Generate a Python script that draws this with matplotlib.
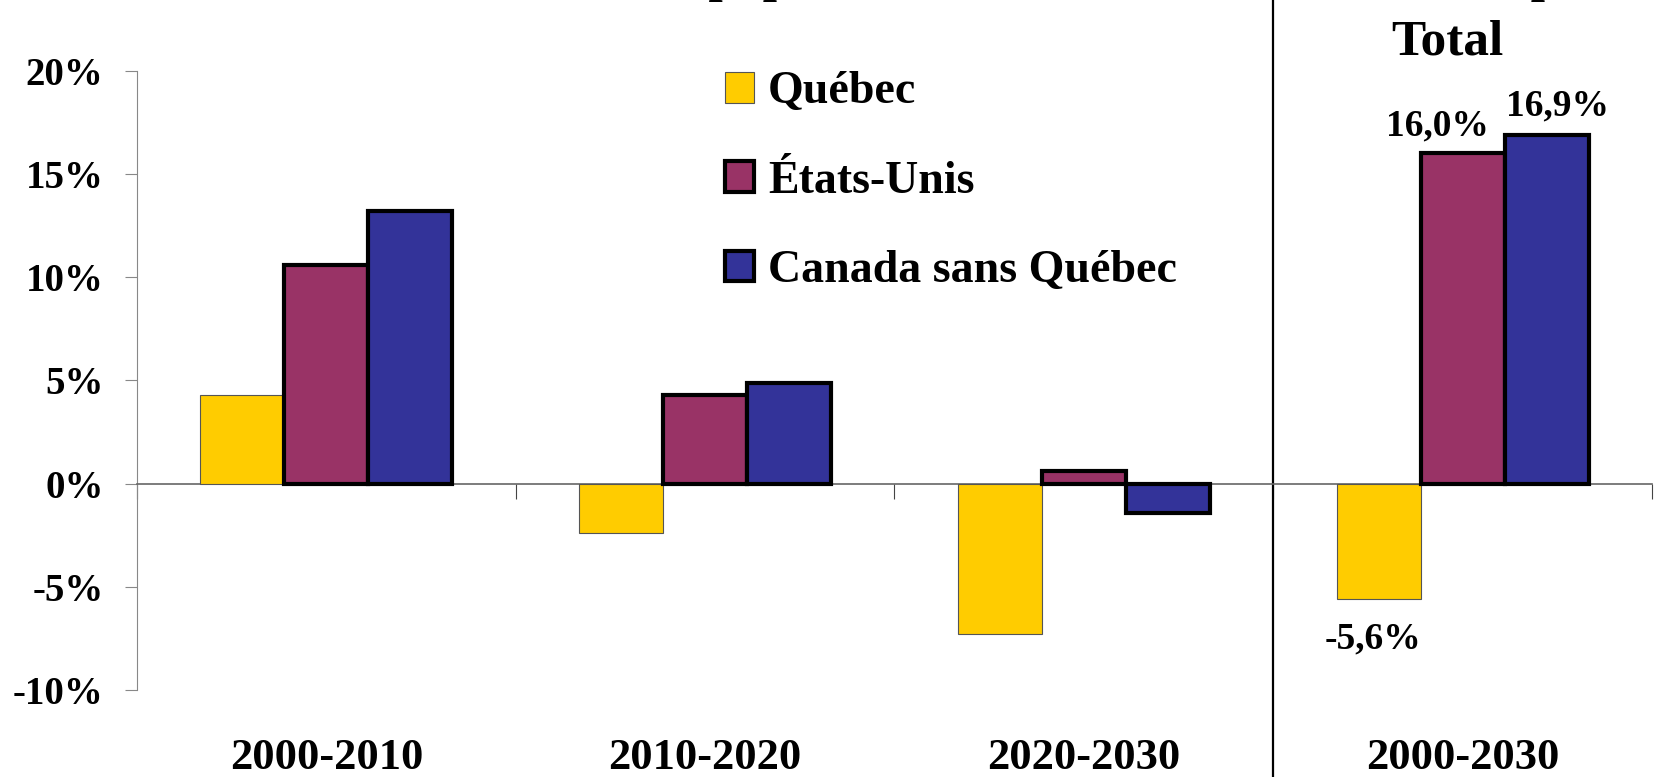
import matplotlib.pyplot as plt
import numpy as np

# data
periods = ['2000-2010', '2010-2020', '2020-2030', '2000-2030']
series = ['Québec', 'États-Unis', 'Canada sans Québec']
quebec = [4.3, -2.4, -7.3, -5.6]
etats_unis = [10.6, 4.3, 0.6, 16.0]
canada_sq = [13.2, 4.9, -1.4, 16.9]
total_labels = ['-5,6%', '16,0%', '16,9%']

COLORS = ['#FFCC00', '#993366', '#333399']
FONT = 'Liberation Serif'

plt.rcParams.update({
    'font.family': FONT,
    'font.weight': 'bold',
})

fig = plt.figure(figsize=(16.58, 7.77), dpi=100)
ax = fig.add_axes([0.0826, 0.112, 0.9138, 0.7967])

x = np.arange(len(periods)) + 0.5
w = 0.222
values = [quebec, etats_unis, canada_sq]
bars = []
for i, (vals, col) in enumerate(zip(values, COLORS)):
    if i == 0:
        b = ax.bar(x + (i - 1) * w, vals, w, color=col, edgecolor='#555555', linewidth=0.8, zorder=3)
    else:
        b = ax.bar(x + (i - 1) * w, vals, w, color=col, edgecolor='black', linewidth=3, zorder=3)
    bars.append(b)

ax.set_xlim(0, 4)
ax.set_ylim(-10, 20)
ax.set_yticks([-10, -5, 0, 5, 10, 15, 20])
ax.set_yticklabels([f'{v}%' for v in [-10, -5, 0, 5, 10, 15, 20]], fontsize=28, fontweight='bold')
ax.set_xticks([0, 1, 2, 3, 4])
ax.set_xticklabels([])

for s in ['top', 'right']:
    ax.spines[s].set_visible(False)
ax.spines['left'].set_color('#888888')
ax.spines['bottom'].set_position(('data', 0))
ax.spines['bottom'].set_color('#666666')
ax.spines['bottom'].set_linewidth(1.2)
ax.tick_params(axis='y', length=9, color='#888888', pad=15)
ax.tick_params(axis='x', length=11, color='#444444')

for xi, lab in zip(x, periods):
    ax.text(xi, -0.11, lab, transform=ax.get_xaxis_transform(), ha='center', va='center',
            fontsize=32, fontweight='bold')

# separator between periods and total
ax.axvline(3, ymin=-0.15, ymax=1.13, color='black', lw=1.6, clip_on=False)

# labels on total group
ax.annotate(total_labels[0], (x[3] - w, quebec[3]), xytext=(-4, -16), textcoords='offset points',
            ha='center', va='top', fontsize=27, fontweight='bold')
ax.annotate(total_labels[1], (x[3], etats_unis[3]), xytext=(-18, 7), textcoords='offset points',
            ha='center', va='bottom', fontsize=27, fontweight='bold')
ax.annotate(total_labels[2], (x[3] + w, canada_sq[3]), xytext=(8, 8), textcoords='offset points',
            ha='center', va='bottom', fontsize=27, fontweight='bold')

fig.text(0.8727, 0.945, 'Total', ha='center', va='center', fontsize=37, fontweight='bold')

# header line at the very top, cut off by the figure edge as in the original
fig.text(0.43, 1.012, 'Croissance de la population active', ha='center', va='baseline',
         fontsize=37, fontweight='bold')
fig.text(0.8727, 1.012, 'Période complète', ha='center', va='baseline', fontsize=37, fontweight='bold')

ax.legend([b[0] for b in bars], series, loc='upper left', bbox_to_anchor=(0.437, 0.908),
          bbox_transform=fig.transFigure, frameon=False,
          prop={'family': FONT, 'weight': 'bold', 'size': 33},
          handlelength=0.65, handleheight=0.65, handletextpad=0.3, labelspacing=1.03,
          borderpad=0, borderaxespad=0)

fig.savefig('out.png', dpi=100)
